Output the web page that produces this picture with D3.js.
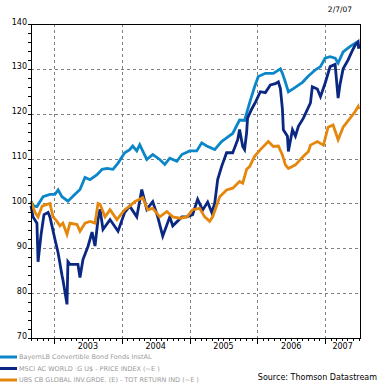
<!DOCTYPE html>
<html>
<head>
<meta charset="utf-8">
<script src="https://cdn.jsdelivr.net/npm/d3@7"></script>
<style>
  html, body { margin: 0; padding: 0; background: #fff; }
  svg { display: block; font-family: "DejaVu Sans", Verdana, sans-serif; }
</style>
</head>
<body>
<script>
// chart values
const yTicks = [70, 80, 90, 100, 110, 120, 130, 140];
const yearLabels = ["2003", "2004", "2005", "2006", "2007"];
const seriesNames = [
  "BayernLB Convertible Bond  Fonds InstAL",
  "MSCI AC WORLD :G U$ - PRICE INDEX (~E )",
  "UBS CB GLOBAL INV.GRDE. (E) - TOT RETURN IND (~E )"
];

const bayernDates = ["2002-08-30","2002-09-10","2002-10-01","2002-11-03","2002-12-10","2003-01-06","2003-01-23","2003-02-13","2003-03-17","2003-04-13","2003-05-21","2003-06-17","2003-07-14","2003-08-21","2003-09-17","2003-10-14","2003-11-15","2003-12-12","2004-01-17","2004-02-13","2004-02-29","2004-03-22","2004-04-07","2004-05-15","2004-06-16","2004-07-24","2004-08-20","2004-09-16","2004-10-24","2004-11-20","2005-01-01","2005-02-08","2005-03-07","2005-04-03","2005-05-16","2005-06-22","2005-07-19","2005-08-21","2005-09-27","2005-10-24","2005-11-20","2005-12-17","2006-01-06","2006-02-13","2006-03-28","2006-05-05","2006-05-16","2006-06-01","2006-06-17","2006-07-14","2006-09-01","2006-10-03","2006-11-10","2006-12-07","2007-01-01","2007-01-28","2007-02-24","2007-03-12","2007-04-08","2007-05-16","2007-06-23","2007-07-02"];
const bayernValues = [100.5,99.5,99.3,101.5,102.0,102.0,103.0,101.5,100.5,101.6,103.1,105.8,105.3,106.4,107.6,107.8,107.6,109.0,111.3,112.0,112.8,111.7,113.1,109.8,110.9,109.8,108.7,110.1,109.4,110.9,111.7,111.7,113.5,112.8,112.0,113.8,114.6,115.6,118.6,118.5,122.4,126.0,128.3,129.0,129.0,130.0,129.0,127.0,124.9,125.6,127.0,128.4,129.8,130.5,132.4,132.7,132.4,131.3,133.8,135.0,136.0,134.5];

const msciDates = ["2002-08-30","2002-09-10","2002-10-01","2002-10-07","2002-10-23","2002-11-08","2002-11-30","2002-12-10","2002-12-21","2003-01-06","2003-01-23","2003-02-13","2003-02-18","2003-03-12","2003-03-17","2003-03-28","2003-05-10","2003-05-21","2003-06-06","2003-07-03","2003-07-25","2003-08-10","2003-08-26","2003-09-06","2003-09-22","2003-10-30","2003-12-12","2004-01-17","2004-02-13","2004-03-22","2004-04-18","2004-05-15","2004-06-16","2004-07-13","2004-08-09","2004-09-16","2004-10-02","2004-11-20","2004-12-17","2005-01-17","2005-02-13","2005-03-12","2005-04-08","2005-04-30","2005-05-16","2005-06-01","2005-06-22","2005-07-19","2005-08-21","2005-09-17","2005-09-27","2005-10-14","2005-10-24","2005-11-04","2005-11-09","2005-12-01","2005-12-23","2006-01-17","2006-02-13","2006-03-12","2006-04-08","2006-04-24","2006-05-05","2006-05-16","2006-05-21","2006-06-12","2006-06-17","2006-07-09","2006-07-25","2006-08-10","2006-09-06","2006-10-14","2006-10-24","2006-11-20","2006-12-07","2007-01-01","2007-01-28","2007-02-24","2007-03-12","2007-03-23","2007-04-08","2007-05-05","2007-05-27","2007-06-12","2007-06-28","2007-07-02"];
const msciValues = [99.5,97.0,95.6,87.0,93.0,97.5,98.0,97.0,95.0,92.0,89.0,84.0,83.0,77.5,87.0,86.4,86.4,83.5,87.5,90.4,93.6,90.5,96.4,98.7,94.2,96.4,93.8,98.0,99.4,97.0,103.1,98.7,100.4,97.0,92.7,97.0,95.0,97.0,97.0,97.5,100.9,98.5,100.3,98.0,100.0,105.3,108.2,111.3,111.3,114.2,116.5,112.7,112.0,115.8,119.0,121.0,122.7,124.9,124.7,126.4,126.7,127.1,125.6,121.0,116.4,115.0,111.6,116.4,115.0,117.2,119.0,122.4,126.0,125.5,123.8,126.8,130.5,131.0,123.5,126.7,130.0,132.0,134.0,135.3,136.0,134.5];

const ubsDates = ["2002-08-30","2002-09-21","2002-10-07","2002-10-29","2002-11-24","2002-12-10","2002-12-27","2003-01-17","2003-02-02","2003-02-18","2003-03-12","2003-03-28","2003-05-05","2003-05-21","2003-06-17","2003-07-14","2003-08-10","2003-08-26","2003-09-06","2003-10-03","2003-10-30","2003-12-06","2004-01-17","2004-02-13","2004-03-11","2004-04-23","2004-05-20","2004-06-16","2004-07-24","2004-08-31","2004-10-02","2004-11-09","2004-12-17","2005-01-17","2005-02-24","2005-03-23","2005-04-19","2005-05-05","2005-06-12","2005-07-19","2005-08-21","2005-09-27","2005-10-14","2005-11-04","2005-11-20","2005-12-17","2006-01-17","2006-03-01","2006-03-28","2006-04-24","2006-05-16","2006-06-01","2006-06-17","2006-07-25","2006-09-06","2006-10-03","2006-10-14","2006-11-20","2006-12-23","2007-01-17","2007-02-13","2007-03-12","2007-04-08","2007-05-16","2007-06-12","2007-06-28","2007-07-02"];
const ubsValues = [100.4,98.0,97.0,99.4,99.8,100.0,97.0,96.0,95.0,95.6,93.1,95.6,95.3,93.8,95.6,96.0,95.6,100.0,99.8,97.0,98.6,96.4,98.6,99.4,100.4,101.3,98.6,98.9,97.0,98.2,97.0,96.7,97.0,98.6,98.9,97.0,96.0,97.0,101.5,103.0,103.4,104.9,104.5,107.6,108.2,110.5,112.0,113.8,112.7,112.8,110.8,108.6,107.8,108.6,110.5,111.6,113.0,113.8,113.0,117.0,117.5,114.2,117.0,119.0,120.5,121.6,121.0];

const seriesColors = ["#0b87c9", "#0a2781", "#e5870c"];

function viz(){
  //svg size and plot box
  const width = 385, height = 385;
  const box = { left: 31, right: 360, top: 24, bottom: 338 };

  const svg = d3.select("body").append("svg")
                .attr("width", width).attr("height", height);

  const parse = d3.utcParse("%Y-%m-%d");
  const startDate = parse("2002-08-30"), endDate = parse("2007-07-08");

  const x = d3.scaleUtc().domain([startDate, endDate]).range([box.left, box.right]);
  const y = d3.scaleLinear().domain([70, 140]).range([box.bottom, box.top]);

  //dashed grid
  const grid = svg.append("g").attr("stroke", "#808080").attr("stroke-dasharray", "3,3").attr("stroke-width", 1);
  grid.selectAll("line.h").data(yTicks.filter(v => v > 70 && v < 140)).join("line")
      .attr("x1", box.left).attr("x2", box.right)
      .attr("y1", d => Math.round(y(d)) + 0.5).attr("y2", d => Math.round(y(d)) + 0.5);
  const yearStarts = d3.utcYear.range(startDate, endDate);
  grid.selectAll("line.v").data(yearStarts).join("line")
      .attr("y1", box.top).attr("y2", box.bottom)
      .attr("x1", d => Math.round(x(d)) + 0.5).attr("x2", d => Math.round(x(d)) + 0.5);

  //series lines
  const line = d3.line().x(d => x(d[0])).y(d => y(d[1]));
  const all = [
    d3.zip(bayernDates.map(parse), bayernValues),
    d3.zip(msciDates.map(parse), msciValues),
    d3.zip(ubsDates.map(parse), ubsValues)
  ];
  svg.append("g").selectAll("path").data(all).join("path")
     .attr("d", line).attr("fill", "none")
     .attr("stroke", (d, i) => seriesColors[i]).attr("stroke-width", 2.8)
     .attr("stroke-linejoin", "miter");

  //frame
  svg.append("rect").attr("x", box.left + 0.5).attr("y", box.top + 0.5)
     .attr("width", box.right - box.left).attr("height", box.bottom - box.top)
     .attr("fill", "none").attr("stroke", "#000");

  //left axis: minor ticks every 2
  const yMinor = d3.range(70, 141, 2);
  svg.append("g").selectAll("line").data(yMinor).join("line")
     .attr("x1", box.left - 3).attr("x2", box.left)
     .attr("y1", d => Math.round(y(d)) + 0.5).attr("y2", d => Math.round(y(d)) + 0.5)
     .attr("stroke", "#000");
  svg.append("g").selectAll("text").data(yTicks).join("text")
     .attr("x", 27).attr("y", d => y(d) + 0.5)
     .attr("text-anchor", "end").attr("font-size", 8).attr("fill", "#000")
     .text(d => d);

  //bottom axis: monthly ticks, longer at year starts
  const months = d3.utcMonth.range(startDate, endDate);
  svg.append("g").selectAll("line").data(months).join("line")
     .attr("x1", d => Math.round(x(d)) + 0.5).attr("x2", d => Math.round(x(d)) + 0.5)
     .attr("y1", box.bottom).attr("y2", d => box.bottom + (d.getUTCMonth() === 0 ? 6 : 3))
     .attr("stroke", "#000");
  svg.append("g").selectAll("text").data(yearLabels).join("text")
     .attr("x", d => {
        const a = Math.max(x(parse(d + "-01-01")), box.left);
        const b = Math.min(x(parse((+d + 1) + "-01-01")), box.right);
        return (a + b) / 2;
     })
     .attr("y", 349).attr("text-anchor", "middle").attr("font-size", 8).attr("fill", "#000")
     .text(d => d);

  //date stamp
  svg.append("text").attr("x", 352).attr("y", 12).attr("text-anchor", "end")
     .attr("font-size", 7.5).attr("fill", "#000").text("2/7/07");

  //legend
  const legend = svg.append("g").selectAll("g").data(seriesNames).join("g")
                    .attr("transform", (d, i) => `translate(0,${357 + i * 11.5})`);
  legend.append("line").attr("x1", 0).attr("x2", 17).attr("y1", 0).attr("y2", 0)
        .attr("stroke", (d, i) => seriesColors[i]).attr("stroke-width", 3);
  legend.append("text").attr("x", 19).attr("y", 2).attr("font-size", 6.5)
        .attr("fill", "#9a9a9a").text(d => d);

  svg.append("text").attr("x", 377).attr("y", 380).attr("text-anchor", "end")
     .attr("font-size", 8).attr("fill", "#000").text("Source: Thomson Datastream");
}
viz();
</script>
</body>
</html>
